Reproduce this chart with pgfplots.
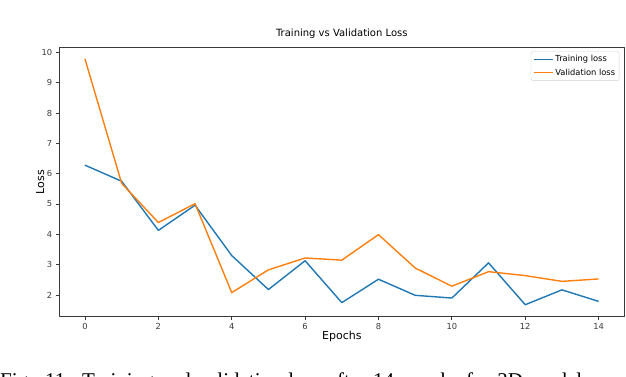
\documentclass[border=0pt]{standalone}
\usepackage{fontspec}
\setmainfont{DejaVu Sans}
\newfontfamily\capfont{Liberation Serif}
\usepackage{pgfplots}
\pgfplotsset{compat=1.18}
\definecolor{tabblue}{HTML}{1F77B4}
\definecolor{taborange}{HTML}{FF7F0E}
\definecolor{framegray}{HTML}{3A3A3A}

\begin{document}
\begin{tikzpicture}
\useasboundingbox (-59.3pt,-59.3pt) rectangle (566.7pt,316.7pt);
\begin{axis}[
    at={(0pt,0pt)}, anchor=south west,
    scale only axis,
    width=565pt, height=269.4pt,
    xmin=-0.7, xmax=14.7,
    ymin=1.285, ymax=10.165,
    xtick={0,2,...,14},
    ytick={2,3,...,10},
    tick align=outside,
    xtick pos=bottom, ytick pos=left,
    major tick length=3.5pt,
    every tick/.style={framegray, line width=0.8pt},
    axis line style={framegray, line width=0.8pt},
    /pgf/number format/assume math mode=true,
    ticklabel style={font=\fontsize{8.3}{9}\selectfont, text=framegray},
    title={Training vs Validation Loss},
    title style={font=\fontsize{10}{11}\selectfont, at={(axis description cs:0.5,1.027)}, anchor=center},
    xlabel={Epochs},
    ylabel={Loss},
    xlabel style={font=\fontsize{11}{12}\selectfont, at={(axis description cs:0.5,-0.074)}, anchor=center},
    ylabel style={font=\fontsize{11}{12}\selectfont, at={(axis description cs:-0.034,0.5)}, anchor=center},
    legend style={
        at={(axis description cs:1,1)}, anchor=north east,
        xshift=-5pt, yshift=-4pt,
        draw=gray!35, rounded corners=2pt,
        fill=white, fill opacity=0.8, text opacity=1,
        font=\fontsize{8.3}{10}\selectfont,
        row sep=1.5pt, inner sep=2pt,
        cells={anchor=west}
    },
    legend image code/.code={\draw[#1, line width=1.4pt] (0pt,0pt) -- (19pt,0pt);},
    line join=round,
]

% Training loss
\addplot[tabblue, line width=1.4pt] coordinates {
    (0,6.28) (1,5.75) (2,4.13) (3,4.96) (4,3.30) (5,2.18) (6,3.13)
    (7,1.75) (8,2.52) (9,1.99) (10,1.90) (11,3.06) (12,1.68) (13,2.17) (14,1.79)
};

% Validation loss
\addplot[taborange, line width=1.4pt] coordinates {
    (0,9.78) (1,5.68) (2,4.39) (3,5.01) (4,2.08) (5,2.83) (6,3.22)
    (7,3.15) (8,3.99) (9,2.89) (10,2.29) (11,2.77) (12,2.64) (13,2.45) (14,2.53)
};

\legend{Training loss, Validation loss}
\end{axis}

% caption of the page, cut by the lower edge as in the scan
\node[anchor=base west, inner sep=0pt, font=\capfont\fontsize{21}{21}\selectfont]
    at (-59.3pt,-70.3pt) {\makebox[582pt][s]{Fig. 11. Training and validation loss after 14 epochs for 3D model}};
\end{tikzpicture}
\end{document}
